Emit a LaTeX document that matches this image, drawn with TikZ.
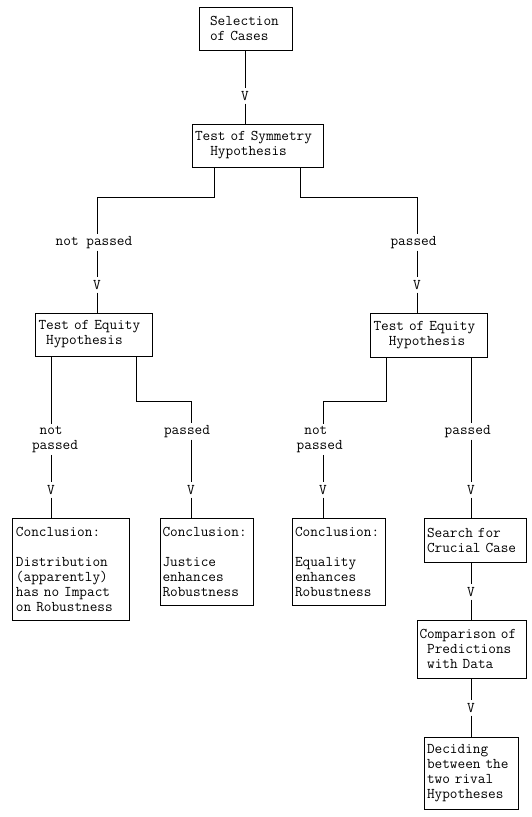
\documentclass[tikz,border=0pt]{standalone}
\usepackage{fontspec}
\newcommand{\mf}{\ttfamily\fontsize{14.86}{15}\selectfont}
\begin{document}
\begin{tikzpicture}[x=1pt,y=-1pt,
  every path/.style={line width=1pt},
  bx/.style n args={3}{draw, line width=1pt, font=\mf, align=left, inner ysep=0pt, inner xsep=#1pt, text width=#2pt, minimum height=#3pt},
  lbl/.style={font=\mf, inner sep=1.5pt, align=left},
  vv/.style={font=\mf, inner sep=2.5pt}]
\useasboundingbox (0,0) rectangle (532,817);
% boxes
\node[bx={11}{71}{43}] (sel) at (245.5,28.5) {Selection\\of Cases};
\node[bx={3}{125}{43}] (sym) at (257.5,145.5) {Test of Symmetry\\\phantom{xx}Hypothesis};
\node[bx={3.5}{110}{43}] (leq) at (93.5,334.5) {Test of Equity\\\phantom{x}Hypothesis};
\node[bx={3.5}{110}{44}] (req) at (428.5,335) {Test of Equity\\\phantom{xx}Hypothesis};
\node[bx={4}{109}{102}] (c1) at (70.5,569) {Conclusion:\\[15pt]Distribution\\(apparently)\\has no Impact\\on Robustness};
\node[bx={2.5}{88}{87}] (c2) at (206.5,561.5) {Conclusion:\\[15pt]Justice\\enhances\\Robustness};
\node[bx={3}{87}{87}] (c3) at (338.5,561.5) {Conclusion:\\[15pt]Equality\\enhances\\Robustness};
\node[bx={3}{96}{44}] (srch) at (475,540) {Search for\\Crucial Case};
\node[bx={2.5}{104}{58}] (comp) at (471.5,649) {Comparison of\\\phantom{x}Predictions\\\phantom{x}with Data};
\node[bx={3}{88}{72}] (dec) at (471,773) {Deciding\\between the\\two rival\\Hypotheses};
% labels
\node[vv] (v1) at (245,96) {V};
\node[lbl] (np1) at (94,242.5) {not passed};
\node[vv] (v2) at (97,285) {V};
\node[lbl] (p1) at (413.5,242.5) {passed};
\node[vv] (v3) at (417,285) {V};
\node[lbl] (np2) at (55,439.5) {\phantom{x}not\\passed};
\node[vv] (v4) at (51,490) {V};
\node[lbl] (p2) at (187,431.5) {passed};
\node[vv] (v5) at (191,490) {V};
\node[lbl] (np3) at (319.7,439.5) {\phantom{x}not\\passed};
\node[vv] (v6) at (323,490) {V};
\node[lbl] (p3) at (467.7,431.5) {passed};
\node[vv] (v7) at (471,490) {V};
\node[vv] (v8) at (471,592) {V};
\node[vv] (v9) at (471,708) {V};
% connectors
\draw (v1 |- sel.south) -- (v1);
\draw (v1) -- (v1 |- sym.north);
\draw ([xshift=-43.5]sym.south) -- ++(0,30) -| (v2 |- np1.north);
\draw (v2 |- np1.south) -- (v2);
\draw (v2) -- (v2 |- leq.north);
\draw ([xshift=42.5]sym.south) -- ++(0,30) -| (v3 |- p1.north);
\draw (v3 |- p1.south) -- (v3);
\draw (v3) -- (v3 |- req.north);
\draw ([xshift=-42.5]leq.south) -- (v4 |- np2.north);
\draw (v4 |- np2.south) -- (v4);
\draw (v4) -- (v4 |- c1.north);
\draw ([xshift=42.5]leq.south) -- ++(0,45) -| (v5 |- p2.north);
\draw (v5 |- p2.south) -- (v5);
\draw (v5) -- (v5 |- c2.north);
\draw ([xshift=-42.5]req.south) -- ++(0,44) -| (v6 |- np3.north);
\draw (v6 |- np3.south) -- (v6);
\draw (v6) -- (v6 |- c3.north);
\draw ([xshift=42.5]req.south) -- (v7 |- p3.north);
\draw (v7 |- p3.south) -- (v7);
\draw (v7) -- (v7 |- srch.north);
\draw (v8 |- srch.south) -- (v8);
\draw (v8) -- (v8 |- comp.north);
\draw (v9 |- comp.south) -- (v9);
\draw (v9) -- (v9 |- dec.north);
\end{tikzpicture}
\end{document}
